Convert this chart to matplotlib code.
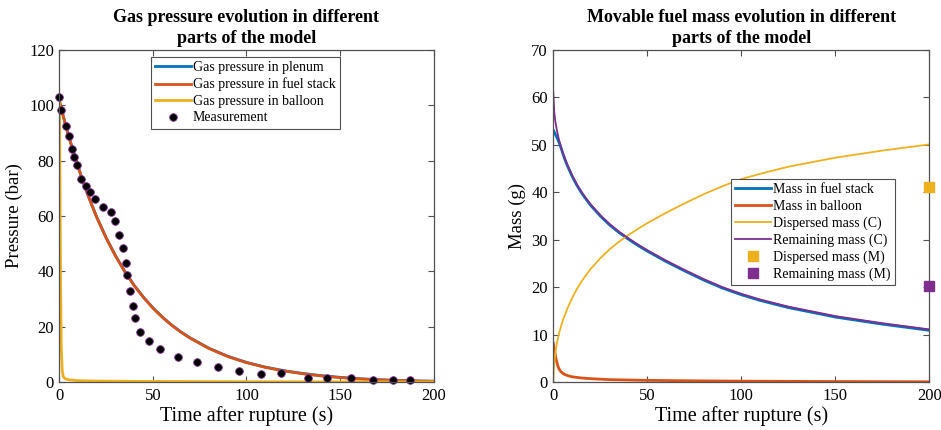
import matplotlib
matplotlib.use("Agg")
import matplotlib.pyplot as plt

plt.rcParams["font.family"] = ["Liberation Serif", "DejaVu Serif"]

BLUE = "#0072BD"
RED = "#D95319"
YELLOW = "#EDB120"
PURPLE = "#7E2F8E"
AXIS_GRAY = "#505050"

# --- pressure model (bar) ---
t_press = [0, 2, 4, 6, 8, 10, 12.5, 15, 17.5, 20, 25, 30, 35, 40, 45, 50, 55,
           60, 65, 70, 80, 90, 100, 110, 120, 130, 140, 150, 160, 170, 180,
           190, 200]
p_plenum = [101.5, 96.2, 91.2, 86.5, 82.0, 77.8, 72.7, 68.0, 63.7, 59.5, 52.1,
            45.6, 39.9, 34.9, 30.6, 26.8, 23.5, 20.6, 18.1, 15.9, 12.2, 9.3,
            7.1, 5.4, 4.1, 3.1, 2.3, 1.7, 1.2, 0.85, 0.6, 0.4, 0.28]
p_stack = [101.5, 96.1, 91.1, 86.4, 81.9, 77.7, 72.6, 67.9, 63.6, 59.4, 52.0,
           45.5, 39.8, 34.8, 30.5, 26.7, 23.4, 20.5, 18.0, 15.8, 12.1, 9.2,
           7.0, 5.3, 4.0, 3.0, 2.2, 1.6, 1.15, 0.8, 0.55, 0.38, 0.26]

t_balloon = [0, 0.3, 0.6, 1, 1.5, 2, 3, 5, 10, 20, 50, 100, 150, 200]
p_balloon = [101, 70, 35, 12, 4, 2, 1.2, 0.8, 0.5, 0.35, 0.2, 0.1, 0.05, 0.02]

# --- measured pressure ---
t_meas = [0, 0.8, 3.7, 5.1, 6.5, 7.8, 9.2, 11.5, 14.3, 16.5, 19.2, 23.4, 27.7,
          29.9, 31.7, 33.8, 35.4, 36.1, 37.7, 39.3, 40.6, 42.9, 47.8, 53.8,
          63.4, 73.4, 84.9, 96.1, 107.5, 118.6, 132.7, 143, 156, 167.5, 178.4,
          187.5]
p_meas = [103.2, 98.4, 92.7, 88.8, 84.4, 81.4, 78.3, 73.5, 71, 68.6, 66.2,
          63.4, 61.3, 58.2, 53.2, 48.4, 42.9, 38.8, 32.8, 27.6, 23, 18.1, 14.7,
          12, 9.2, 7.1, 5.3, 4.1, 3.0, 3.2, 1.6, 1.3, 1.3, 0.9, 0.9, 0.6]

# --- movable fuel mass (g) ---
t_mass = [0, 0.25, 0.5, 1, 1.5, 2, 3, 4, 5, 6, 7.5, 10, 12.5, 15, 17.5, 20,
          25, 30, 35, 40, 45, 50, 60, 70, 80, 90, 100, 110, 125, 150, 175, 200]
m_stack = [53.1, 52.9, 52.7, 52.3, 51.9, 51.5, 50.6, 49.5, 48.3, 47.1, 45.6,
           43.4, 41.5, 39.9, 38.5, 37.2, 35.0, 33.1, 31.5, 30.1, 28.8, 27.6,
           25.4, 23.4, 21.5, 19.8, 18.4, 17.2, 15.7, 13.7, 12.2, 10.9]
m_remaining = [61.2, 58.8, 57.0, 55.2, 54.0, 52.9, 51.1, 49.7, 48.4, 47.3,
               45.8, 43.6, 41.7, 40.1, 38.7, 37.4, 35.2, 33.3, 31.7, 30.3,
               29.0, 27.8, 25.6, 23.6, 21.7, 20.0, 18.6, 17.4, 15.9, 13.9,
               12.4, 11.1]
m_dispersed = [0, 2.5, 4.0, 5.8, 7.2, 8.4, 10.2, 11.6, 12.9, 14.0, 15.5, 17.7,
               19.6, 21.2, 22.6, 23.9, 26.1, 28.0, 29.6, 31.0, 32.3, 33.5,
               35.7, 37.7, 39.6, 41.3, 42.8, 43.9, 45.4, 47.3, 48.8, 50.1]

t_mass_balloon = [0, 0.25, 0.5, 1, 1.5, 2, 2.5, 3, 4, 5, 6, 8, 10, 15, 20, 30,
                  50, 75, 100, 150, 200]
m_balloon = [8.2, 7.6, 7.0, 5.8, 4.8, 4.0, 3.3, 2.8, 2.2, 1.85, 1.6, 1.3, 1.1,
             0.85, 0.7, 0.5, 0.35, 0.25, 0.18, 0.1, 0.05]

# measured masses at end of test
t_end = [200]
m_dispersed_meas = [41.2]
m_remaining_meas = [20.2]


def style_axes(ax):
    for sp in ax.spines.values():
        sp.set_color(AXIS_GRAY)
        sp.set_linewidth(0.9)
    ax.tick_params(direction="in", top=True, right=True, length=4,
                   width=0.8, color=AXIS_GRAY, labelsize=12, pad=4)


def add_legend(ax, anchor):
    leg = ax.legend(loc="upper left", bbox_to_anchor=anchor, fontsize=10,
                    frameon=True, fancybox=False, edgecolor=AXIS_GRAY,
                    framealpha=1, handlelength=2.6, handletextpad=0.1,
                    borderpad=0.3, labelspacing=0.25, borderaxespad=0)
    leg.get_frame().set_linewidth(0.8)
    return leg


fig = plt.figure(figsize=(9.41, 4.30), dpi=100)
ax1 = fig.add_axes([0.0632, 0.1116, 0.3975, 0.772])
ax2 = fig.add_axes([0.588, 0.1116, 0.3996, 0.772])

# pressure panel
ax1.plot(t_press, p_plenum, color=BLUE, lw=2.0, label="Gas pressure in plenum")
ax1.plot(t_press, p_stack, color=RED, lw=2.0, label="Gas pressure in fuel stack")
ax1.plot(t_balloon, p_balloon, color=YELLOW, lw=2.0, label="Gas pressure in balloon")
ax1.plot(t_meas, p_meas, "o", ms=5.5, mfc="black", mec=PURPLE, mew=0.6,
         label="Measurement", clip_on=False)
ax1.set_xlim(0, 200)
ax1.set_ylim(0, 120)
ax1.set_xticks([0, 50, 100, 150, 200])
ax1.set_yticks([0, 20, 40, 60, 80, 100, 120])
ax1.set_xlabel("Time after rupture (s)", fontsize=14.5, labelpad=2)
ax1.set_ylabel("Pressure (bar)", fontsize=13.5, labelpad=4)
ax1.set_title("Gas pressure evolution in different\nparts of the model",
              fontsize=13, fontweight="bold", pad=5, linespacing=1.3)
style_axes(ax1)
add_legend(ax1, (0.245, 0.979))

# mass panel
ax2.plot(t_mass, m_stack, color=BLUE, lw=2.0, label="Mass in fuel stack")
ax2.plot(t_mass_balloon, m_balloon, color=RED, lw=2.0, label="Mass in balloon")
ax2.plot(t_mass, m_dispersed, color=YELLOW, lw=1.3, label="Dispersed mass (C)")
ax2.plot(t_mass, m_remaining, color=PURPLE, lw=1.3, label="Remaining mass (C)")
ax2.plot(t_end, m_dispersed_meas, "s", ms=6.5, color=YELLOW, mec=YELLOW,
         label="Dispersed mass (M)", clip_on=False, zorder=5)
ax2.plot(t_end, m_remaining_meas, "s", ms=6.5, color=PURPLE, mec=PURPLE,
         label="Remaining mass (M)", clip_on=False, zorder=5)
ax2.set_xlim(0, 200)
ax2.set_ylim(0, 70)
ax2.set_xticks([0, 50, 100, 150, 200])
ax2.set_yticks([0, 10, 20, 30, 40, 50, 60, 70])
ax2.set_xlabel("Time after rupture (s)", fontsize=14.5, labelpad=2)
ax2.set_ylabel("Mass (g)", fontsize=13.5, labelpad=4)
ax2.set_title("Movable fuel mass evolution in different\nparts of the model",
              fontsize=13, fontweight="bold", pad=5, linespacing=1.3)
style_axes(ax2)
add_legend(ax2, (0.473, 0.611))

fig.savefig("out.png", dpi=100)
